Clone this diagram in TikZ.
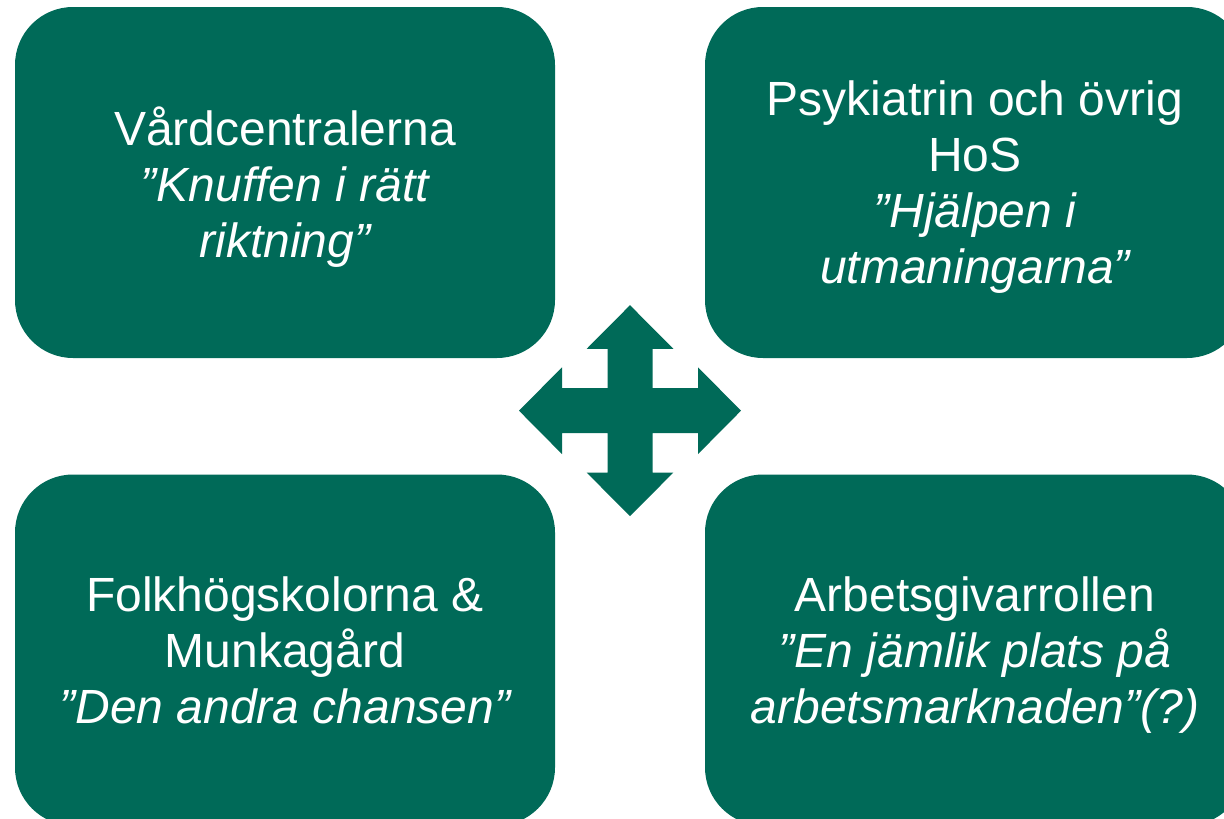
\documentclass[tikz,border=0pt]{standalone}
\usepackage{fontspec}
\setmainfont{Liberation Sans}
\definecolor{boxgreen}{RGB}{0,106,88}
\begin{document}
\begin{tikzpicture}[x=1pt,y=-1pt,
  box/.style={fill=boxgreen, rounded corners=58pt, minimum width=540pt,
    minimum height=351pt, text=white, align=center, text depth=0pt,
    font=\fontsize{48}{56}\selectfont, inner sep=0pt}]
\useasboundingbox (0,0) rectangle (1224,819);
\clip (0,0) rectangle (1224,819);
\node[box] (vc) at (285,182.5) {Vårdcentralerna\\{\itshape ”Knuffen i rätt}\\{\itshape riktning”}};
\node[box] (psy) at (975,182.5) {Psykiatrin och övrig\\HoS\\{\itshape ”Hjälpen i}\\{\itshape utmaningarna”}};
\node[box] (folk) at (285,650) {Folkhögskolorna \&\\Munkagård\\{\itshape ”Den andra chansen”}};
\node[box] (arb) at (975,650) {Arbetsgivarrollen\\{\itshape ”En jämlik plats på}\\{\itshape arbetsmarknaden”(?)}};
\begin{scope}[shift={(630,410.7)}]
\fill[boxgreen] (0,-105.5) -- (43.4,-61.8) -- (22.5,-61.8) -- (22.5,-22.5) -- (68,-22.5) -- (68,-43.4) -- (111,0) -- (68,43.4) -- (68,22.5) -- (22.5,22.5) -- (22.5,61.8) -- (43.4,61.8) -- (0,105.5) -- (-43.4,61.8) -- (-22.5,61.8) -- (-22.5,22.5) -- (-68,22.5) -- (-68,43.4) -- (-111,0) -- (-68,-43.4) -- (-68,-22.5) -- (-22.5,-22.5) -- (-22.5,-61.8) -- (-43.4,-61.8) -- cycle;
\end{scope}
\end{tikzpicture}
\end{document}
